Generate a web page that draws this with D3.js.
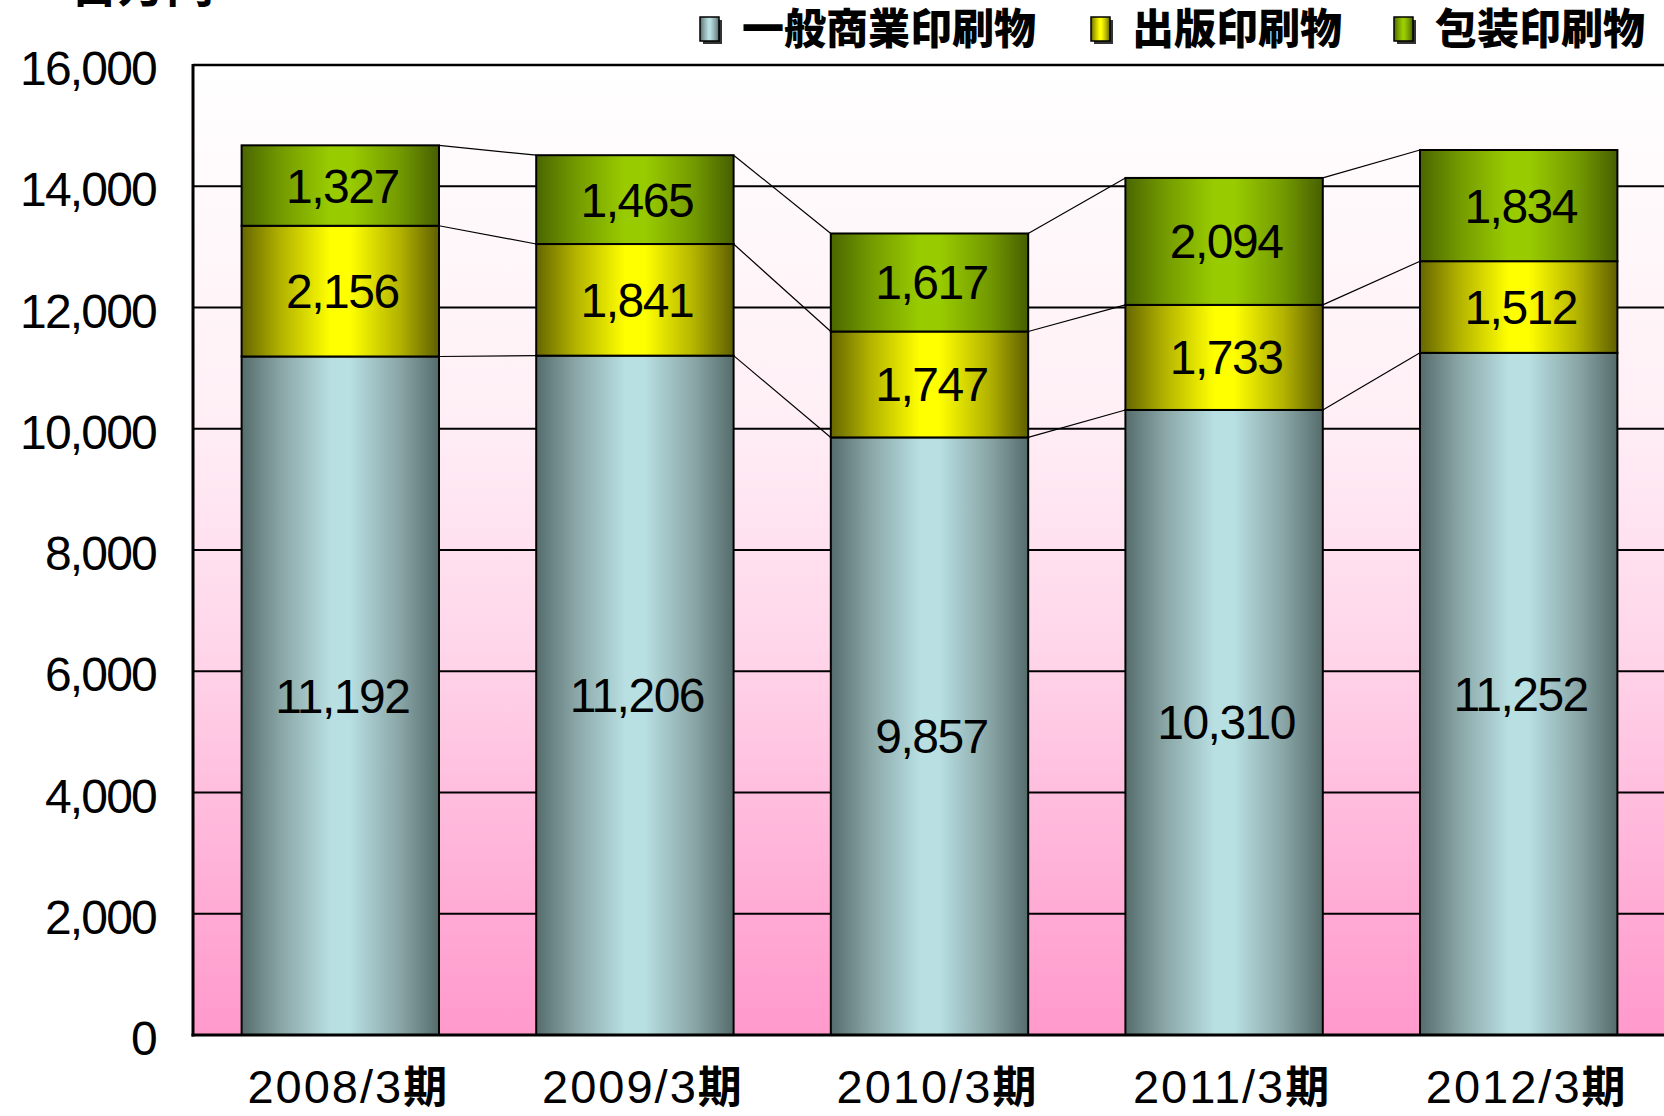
<!DOCTYPE html>
<html>
<head>
<meta charset="utf-8">
<script src="https://cdn.jsdelivr.net/npm/d3@7"></script>
<style>
  html, body { margin: 0; padding: 0; background: #ffffff; }
  svg { display: block; }
</style>
</head>
<body>
<svg id="chart" width="1664" height="1116"></svg>
<script>
const categories = ["2008/3期", "2009/3期", "2010/3期", "2011/3期", "2012/3期"];
const seriesNames = ["一般商業印刷物", "出版印刷物", "包装印刷物"];
const general = [11192, 11206, 9857, 10310, 11252];
const publishing = [2156, 1841, 1747, 1733, 1512];
const packaging = [1327, 1465, 1617, 2094, 1834];
const yTicks = [0, 2000, 4000, 6000, 8000, 10000, 12000, 14000, 16000];
const unitLabel = "百万円";

const rows = categories.map((c, i) => ({ cat: c, s0: general[i], s1: publishing[i], s2: packaging[i] }));
const keys = ["s0", "s1", "s2"];

const svg = d3.select("#chart");
const W = 1664, H = 1116;
const m = { left: 193, top: 65, right: -2, bottom: 81 };
const plotL = m.left, plotR = W - m.right, plotT = m.top, plotB = H - m.bottom;

const x = d3.scaleBand().domain(categories).range([plotL, plotR]).paddingInner(0.33).paddingOuter(0.165);
const y = d3.scaleLinear().domain([0, 16000]).range([plotB, plotT]);

const defs = svg.append("defs");
const bg = defs.append("linearGradient").attr("id", "bg").attr("x1", 0).attr("y1", 0).attr("x2", 0).attr("y2", 1);
[["0%", "#ffffff"], ["35%", "#fff0f6"], ["60%", "#ffd6ea"], ["85%", "#ffaed6"], ["100%", "#ff99cc"]]
  .forEach(([o, c]) => bg.append("stop").attr("offset", o).attr("stop-color", c));

const palettes = [
  ["#566c6c", "#8aa6a7", "#b8dfe2", "#b8dfe2", "#8aa6a7", "#566c6c"],
  ["#666600", "#b3b300", "#ffff00", "#ffff00", "#b3b300", "#5f5f00"],
  ["#4a6600", "#739a00", "#99cc00", "#99cc00", "#739a00", "#475f00"]
];
const offs = ["0%", "20%", "45%", "55%", "80%", "100%"];
palettes.forEach((p, i) => {
  const g = defs.append("linearGradient").attr("id", "g" + i).attr("x1", 0).attr("y1", 0).attr("x2", 1).attr("y2", 0);
  p.forEach((c, j) => g.append("stop").attr("offset", offs[j]).attr("stop-color", c));
});

// plot background
svg.append("rect").attr("x", plotL).attr("y", plotT).attr("width", plotR - plotL).attr("height", plotB - plotT).attr("fill", "url(#bg)");

// gridlines
svg.append("g").selectAll("line").data(yTicks.filter(t => t > 0)).join("line")
  .attr("x1", plotL).attr("x2", plotR).attr("y1", d => y(d)).attr("y2", d => y(d))
  .attr("stroke", "#000").attr("stroke-width", 2);

const stacked = d3.stack().keys(keys)(rows);

// connector lines
const cats = categories;
stacked.forEach(layer => {
  for (let i = 0; i < cats.length - 1; i++) {
    svg.append("line")
      .attr("x1", x(cats[i]) + x.bandwidth()).attr("y1", y(layer[i][1]))
      .attr("x2", x(cats[i + 1])).attr("y2", y(layer[i + 1][1]))
      .attr("stroke", "#000").attr("stroke-width", 1.2);
  }
});

// bars
stacked.forEach((layer, li) => {
  svg.append("g").selectAll("rect").data(layer).join("rect")
    .attr("x", d => x(d.data.cat)).attr("width", x.bandwidth())
    .attr("y", d => y(d[1])).attr("height", d => y(d[0]) - y(d[1]))
    .attr("fill", `url(#g${li})`).attr("stroke", "#000").attr("stroke-width", 2);
});

// value labels
const fmt = d3.format(",");
stacked.forEach(layer => {
  svg.append("g").selectAll("text").data(layer).join("text")
    .attr("x", d => x(d.data.cat) + x.bandwidth() / 2 + 2)
    .attr("y", d => (y(d[0]) + y(d[1])) / 2 + 17)
    .attr("text-anchor", "middle")
    .attr("font-family", "'Liberation Sans', Arial, sans-serif")
    .attr("font-size", 48).attr("letter-spacing", -1.5)
    .attr("fill", "#000")
    .text(d => fmt(d[1] - d[0]));
});

// axes frame
svg.append("line").attr("x1", plotL).attr("x2", plotL).attr("y1", plotT - 1).attr("y2", plotB + 1.5).attr("stroke", "#000").attr("stroke-width", 3);
svg.append("line").attr("x1", plotL).attr("x2", plotR).attr("y1", plotT).attr("y2", plotT).attr("stroke", "#000").attr("stroke-width", 2.5);
svg.append("line").attr("x1", plotL - 1.5).attr("x2", plotR).attr("y1", plotB).attr("y2", plotB).attr("stroke", "#000").attr("stroke-width", 3);

// y tick labels
svg.append("g").selectAll("text").data(yTicks).join("text")
  .attr("x", 156).attr("y", d => y(d) + 20)
  .attr("text-anchor", "end")
  .attr("font-family", "'Liberation Sans', Arial, sans-serif")
  .attr("font-size", 48).attr("letter-spacing", -1.8)
  .text(d => fmt(d));

// category labels
svg.append("g").selectAll("text").data(categories).join("text")
  .attr("x", d => x(d) + x.bandwidth() / 2 + 8).attr("y", 1103)
  .attr("text-anchor", "middle")
  .attr("font-family", "'Liberation Sans', 'Noto Sans CJK JP', sans-serif")
  .attr("font-size", 47).attr("letter-spacing", 2)
  .each(function (d) {
    const t = d3.select(this);
    t.append("tspan").text(d.slice(0, -1));
    t.append("tspan").attr("font-family", "'Noto Sans CJK JP', sans-serif").attr("font-weight", "bold").attr("font-size", 44).text(d.slice(-1));
  });

// unit label (cut off at top)
svg.append("text").attr("x", 70).attr("y", 2)
  .attr("font-family", "'Noto Sans CJK JP', sans-serif").attr("font-weight", "bold")
  .attr("font-size", 48).text(unitLabel);

// legend
const legendX = [700, 1091, 1394];
const legendTextX = [742, 1132, 1435];
seriesNames.forEach((name, i) => {
  const g = svg.append("g");
  g.append("rect").attr("x", legendX[i] + 3).attr("y", 20).attr("width", 19).attr("height", 24).attr("fill", "#333");
  g.append("rect").attr("x", legendX[i]).attr("y", 17).attr("width", 19).attr("height", 24)
    .attr("fill", `url(#g${i})`).attr("stroke", "#000").attr("stroke-width", 1.5);
  g.append("text").attr("x", legendTextX[i]).attr("y", 44)
    .attr("font-family", "'Noto Sans CJK JP', sans-serif").attr("font-weight", "900")
    .attr("font-size", 42).attr("letter-spacing", 0).text(name);
});
</script>
</body>
</html>
